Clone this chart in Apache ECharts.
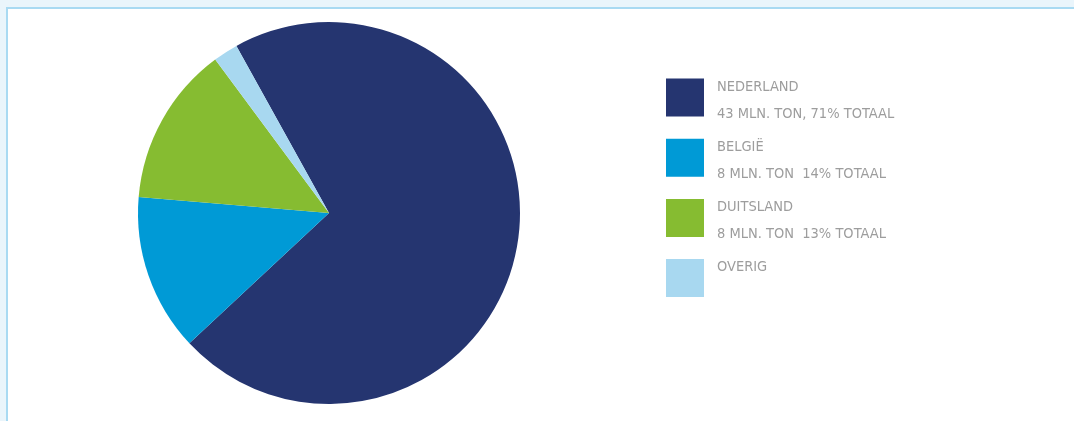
<!DOCTYPE html>
<html>
<head>
<meta charset="utf-8">
<script src="https://cdn.jsdelivr.net/npm/echarts@6/dist/echarts.min.js"></script>
<style>
  html, body { margin: 0; padding: 0; background: #eaf5fb; }
  #box {
    position: absolute; left: 6px; top: 7px; width: 1100px; height: 450px;
    background: #fff; border-left: 2px solid #a9daf2; border-top: 2px solid #a9daf2;
  }
  #main { position: absolute; left: 0; top: 0; width: 1074px; height: 421px; }
</style>
</head>
<body>
<div id="box"></div>
<div id="main"></div>
<script>
// aandeel per land (gelezen uit de taart, in %)
var landen = ["NEDERLAND", "BELGIË", "DUITSLAND", "OVERIG"];
var aandeel = [71.1, 13.3, 13.5, 2.1];
var onderschrift = ["43 MLN. TON, 71% TOTAAL", "8 MLN. TON  14% TOTAAL", "8 MLN. TON  13% TOTAAL", "\u00a0"];
var kleuren = ["#253570", "#009ad6", "#86bc31", "#a8d8f0"];

var dom = document.getElementById("main");
var myChart = echarts.init(dom, null, { renderer: "canvas" });

var pieData = [];
for (var i = 0; i < landen.length; i++) {
  pieData.push({ name: landen[i], value: aandeel[i], itemStyle: { color: kleuren[i] } });
}

var option = {
  animation: false,
  legend: {
    orient: "vertical",
    left: 666,
    top: 70,
    padding: 0,
    itemWidth: 38,
    itemHeight: 38,
    itemGap: 8.7,
    icon: "rect",
    selectedMode: false,
    data: landen,
    formatter: function (name) {
      var idx = landen.indexOf(name);
      // lege regel bovenaan schuift de tekst een paar pixels omlaag
      return "{s|\u00a0}\n{t|" + name + "}\n{t|" + onderschrift[idx] + "}";
    },
    textStyle: {
      fontFamily: "'DejaVu Sans Condensed', sans-serif",
      fontSize: 14.5,
      color: "#9d9d9d",
      padding: [0, 0, 0, 8],
      rich: {
        s: { fontSize: 1, lineHeight: 6 },
        t: {
          fontFamily: "'DejaVu Sans Condensed', sans-serif",
          fontSize: 14.5,
          color: "#9d9d9d",
          lineHeight: 27
        }
      }
    }
  },
  series: [
    {
      type: "pie",
      center: [329, 213],
      radius: 191,
      startAngle: 119,
      clockwise: true,
      label: { show: false },
      labelLine: { show: false },
      emphasis: { disabled: true },
      data: pieData
    }
  ]
};

myChart.setOption(option);
window.addEventListener("resize", myChart.resize);
</script>
</body>
</html>
